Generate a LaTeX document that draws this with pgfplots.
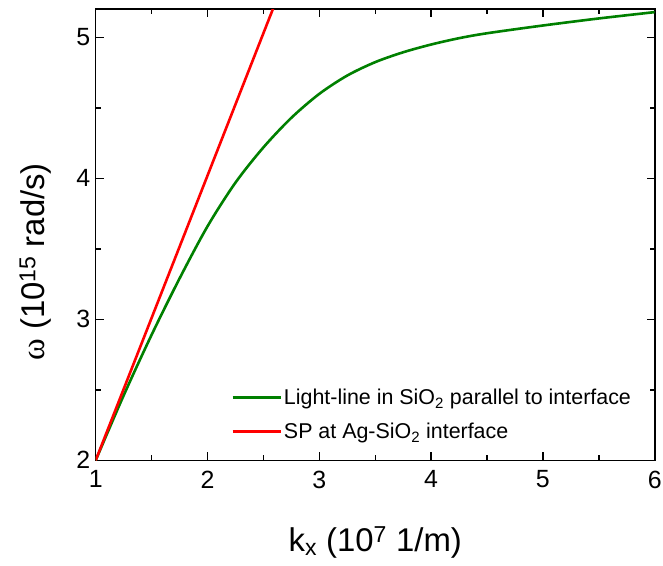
\documentclass[border=0pt]{standalone}
\usepackage{pgfplots}
\pgfplotsset{compat=1.18}
\usepackage{fontspec}
\setmainfont{Liberation Sans}
\newfontfamily\serifgr{Liberation Serif}
\definecolor{myred}{RGB}{255,0,0}
\definecolor{mygreen}{RGB}{0,128,0}
\begin{document}
\begin{tikzpicture}
\useasboundingbox (-95.7bp,-105bp) rectangle (567.3bp,460.3bp);
\begin{axis}[
  at={(0,0)}, anchor=south west,
  scale only axis,
  width=559bp, height=451bp,
  xmin=1, xmax=6, ymin=2, ymax=5.2,
  xtick={1,2,3,4,5,6}, ytick={2,3,4,5},
  minor x tick num=1, minor y tick num=1,
  tick align=inside,
  major tick length=8bp, minor tick length=5bp,
  axis line style={line width=1.6bp},
  every tick/.style={line width=1.4bp, black},
  /pgf/number format/assume math mode=true,
  ticklabel style={font=\fontsize{25}{30}\selectfont},
  xticklabel style={yshift=-7bp},
  yticklabel style={xshift=-2bp},
  xlabel={k\textsubscript{x} (10\textsuperscript{7} 1/m)},
  ylabel={{\serifgr ω} (10\textsuperscript{15} rad/s)},
  label style={font=\fontsize{33}{38}\selectfont},
  xlabel style={at={(axis description cs:0.5,-0.182)}, anchor=center},
  ylabel style={at={(axis description cs:-0.108,0.44)}, anchor=center},
  legend style={draw=none, fill=none, at={(axis description cs:0.237,0.167)}, anchor=north west,
    font=\fontsize{21.5}{25}\selectfont, row sep=13bp,
    /tikz/every even column/.append style={column sep=0bp}},
  legend cell align=left,
  legend image code/.code={\draw[#1] (0bp,0bp) -- (48bp,0bp);},
]
\addplot[mygreen, line width=2.6bp, smooth] coordinates {
(1.0,2.0) (1.25,2.46) (1.5,2.89) (1.75,3.29) (2.0,3.66) (2.25,3.97) (2.5,4.22)
(2.75,4.43) (3.0,4.60) (3.25,4.73) (3.5,4.825) (3.75,4.895) (4.0,4.95)
(4.25,4.995) (4.5,5.03) (5.0,5.085) (5.5,5.135) (6.0,5.18)};
\addlegendentry{Light-line in SiO\textsubscript{2} parallel to interface}
\addplot[myred, line width=2.6bp] coordinates {(1.0,2.0) (2.6,5.232)};
\addlegendentry{SP at Ag-SiO\textsubscript{2} interface}
\end{axis}
\end{tikzpicture}
\end{document}
